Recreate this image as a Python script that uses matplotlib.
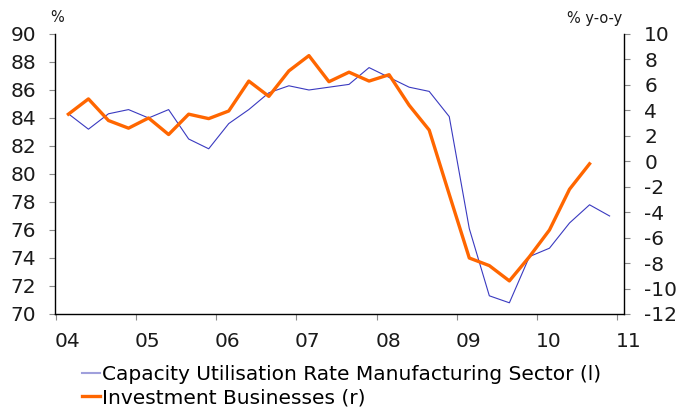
import numpy as np
import matplotlib.pyplot as plt
import matplotlib.transforms as mtransforms
from matplotlib.ticker import FixedLocator

# 季度数据 (2004 Q1 起)
capacity = [84.3, 83.2, 84.3, 84.6, 84.0, 84.6, 82.5, 81.8, 83.6, 84.6,
            85.8, 86.3, 86.0, 86.2, 86.4, 87.6, 86.9, 86.2, 85.9, 84.1,
            76.1, 71.3, 70.8, 74.1, 74.7, 76.5, 77.8, 77.0]
investment = [3.7, 4.9, 3.2, 2.6, 3.4, 2.1, 3.7, 3.35, 3.95, 6.3,
              5.1, 7.1, 8.3, 6.25, 7.0, 6.3, 6.8, 4.4, 2.45, -2.6,
              -7.6, -8.2, -9.4, -7.5, -5.4, -2.2, -0.2]
year_labels = ["04", "05", "06", "07", "08", "09", "10", "11"]
years = np.arange(2004, 2012)

cap_label = "Capacity Utilisation Rate Manufacturing Sector (l)"
inv_label = "Investment Businesses (r)"

x_cap = 2004.157 + 0.25 * np.arange(len(capacity))
x_inv = x_cap[:len(investment)]

plt.rcParams['font.family'] = ['DejaVu Sans']
plt.rcParams['axes.unicode_minus'] = False

fig = plt.figure(figsize=(6.79, 4.08), dpi=100)
ax = fig.add_axes([0.081, 0.2304, 0.8384, 0.6863])
ax2 = ax.twinx()

l1, = ax.plot(x_cap, capacity, color='#3a3ac0', linewidth=0.8)
l2, = ax2.plot(x_inv, investment, color='#ff6600', linewidth=2.4)

ax.set_xlim(2004 - 0.01, 2011.09)
ax.set_ylim(70, 90)
ax2.set_ylim(-12, 10)

# 刻度线在整年处, 年份标签稍微右移 (跟原图一致)
ax.xaxis.set_major_locator(FixedLocator(years))
ax.xaxis.set_major_formatter(plt.NullFormatter())
label_tr = ax.get_xaxis_transform() + mtransforms.ScaledTranslation(
    0.115, -0.18, fig.dpi_scale_trans)
for yr, lab in zip(years, year_labels):
    ax.text(yr, 0, lab, transform=label_tr, ha='center', va='top',
            fontsize=14.5, color='#1a1a1a', clip_on=False)

ax.set_yticks(np.arange(70, 91, 2))
ax2.set_yticks(np.arange(-12, 11, 2))

for a in (ax, ax2):
    a.spines['top'].set_visible(False)
    for s in a.spines.values():
        s.set_linewidth(1.0)
ax.spines['right'].set_visible(False)
ax2.spines['left'].set_visible(False)
ax2.spines['bottom'].set_visible(False)

tick_gray = '#8a8a8a'
ax.tick_params(axis='y', labelsize=14.5, length=4.3, width=0.8, pad=9.4,
               color=tick_gray, labelcolor='#1a1a1a')
ax.tick_params(axis='x', length=4.3, width=0.8, color=tick_gray)
ax2.tick_params(axis='y', labelsize=14.5, length=4.3, width=0.8, pad=10,
                color=tick_gray, labelcolor='#1a1a1a')

fig.text(50 / 679, 1 - 17 / 408, "%", fontsize=10.5, ha='left', va='center', color='#1a1a1a')
fig.text(622 / 679, 1 - 18 / 408, "% y-o-y", fontsize=10.5, ha='right', va='center', color='#1a1a1a')

fig.legend([l1, l2], [cap_label, inv_label], loc='upper left',
           bbox_to_anchor=(82 / 679, 1 - 365 / 408), frameon=False,
           fontsize=14.5, handlelength=0.9, handletextpad=0.1,
           labelspacing=0.2, borderaxespad=0, borderpad=0)
leg = fig.legends[0]
leg.get_lines()[0].set_color('#a0a0dc')
leg.get_lines()[0].set_linewidth(1.5)

plt.savefig("out.png", dpi=100)
plt.close()
